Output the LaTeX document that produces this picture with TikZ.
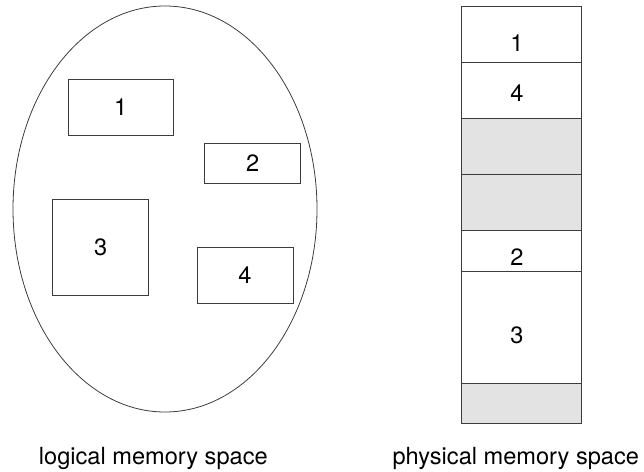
\documentclass[tikz,border=0pt]{standalone}
\usepackage{fontspec}
\setmainfont{TeX Gyre Heros}
\usepackage{tikz}
\usetikzlibrary{positioning, shapes.geometric}

\definecolor{holegray}{RGB}{227,227,227}
\definecolor{edgegray}{RGB}{60,60,60}

\begin{document}
\begin{tikzpicture}[x=1pt, y=-1pt, line width=0.8pt, draw=edgegray,
    font=\fontsize{23.6}{28}\selectfont,
    seg/.style={draw, rectangle, inner sep=0pt, outer sep=0pt},
    slot/.style={seg, minimum width=120pt},
    hole/.style={slot, fill=holegray}]

    \useasboundingbox (0,0) rectangle (644,471);

        % logical address space with its segments
        \node[draw, ellipse, inner sep=0pt, minimum width=304pt, minimum height=406pt] (logical) at (165,209) {};
        \node[seg, minimum width=105pt, minimum height=56pt] (s1) at (120.7,107) {1};
        \node[seg, minimum width=96pt,  minimum height=40pt] (s2) at (252.8,163) {2};
        \node[seg, minimum width=96pt,  minimum height=96pt] (s3) at (100.8,247) {3};
        \node[seg, minimum width=96pt,  minimum height=56pt] (s4) at (245,275)   {4};

        % physical memory, stacked top to bottom
        \node[slot, minimum height=56pt, anchor=north, label={[xshift=-4pt,yshift=-8pt]center:1}] (m1) at (521,6.7) {};
        \node[slot, minimum height=55.6pt, label={[xshift=-4pt,yshift=-2.5pt]center:4}] (m4) [below=0pt of m1] {};
        \node[hole, minimum height=56.4pt] (f1) [below=0pt of m4] {};
        \node[hole, minimum height=56pt]   (f2) [below=0pt of f1] {};
        \node[slot, minimum height=40.3pt, label={[xshift=-4pt,yshift=-6pt]center:2}] (m2) [below=0pt of f2] {};
        \node[slot, minimum height=112.3pt, label={[xshift=-4pt,yshift=-8pt]center:3}] (m3) [below=0pt of m2] {};
        \node[hole, minimum height=40pt]   (f3) [below=0pt of m3] {};

        \node[anchor=base] (lcap) at (153.3,464) {logical memory space};
        \node[anchor=base] (pcap) at (515.8,464) {physical memory space};

\end{tikzpicture}
\end{document}
